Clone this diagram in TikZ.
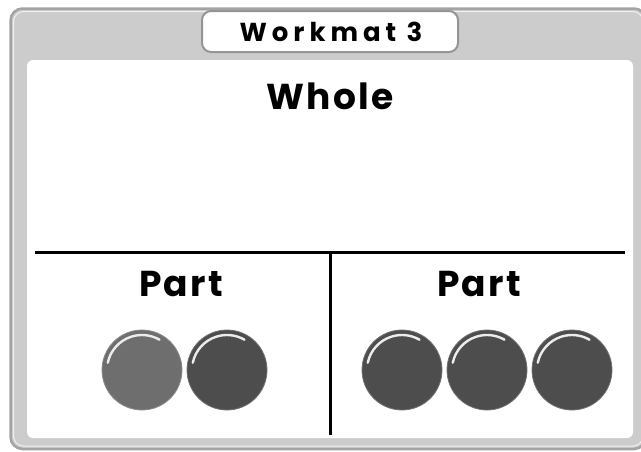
\documentclass[tikz,border=0pt]{standalone}
\usepackage{fontspec}
\usetikzlibrary{calc}
\newfontfamily\matfont{Poppins}[LetterSpace=6]
\newfontfamily\titlefont{Poppins}[LetterSpace=19]
\begin{document}
\begin{tikzpicture}[x=1pt,y=-1pt,
  lbl/.style={font=\matfont\bfseries\fontsize{36}{40}\selectfont, inner sep=0pt, anchor=base},
  ttl/.style={font=\titlefont\bfseries\fontsize{26}{28}\selectfont, inner sep=0pt, anchor=base},
  counter/.style={circle, minimum size=80pt, inner sep=0pt, draw=#1!80!white, line width=0.8pt, fill=#1},
  divider/.style={line width=3pt, black}
]
\definecolor{framegray}{HTML}{CCCCCC}
\definecolor{frameedge}{HTML}{A4A4A4}
\definecolor{lightchip}{HTML}{6E6E6E}
\definecolor{darkchip}{HTML}{4D4D4D}
\useasboundingbox (0,0) rectangle (641,451);
\fill[white] (0,0) rectangle (641,451);
% outer frame
\draw[frameedge, fill=framegray, line width=2.5pt, rounded corners=12pt] (10.5,8.5) rectangle (646,449);
\draw[white!88!gray, line width=1pt, rounded corners=10pt] (13.5,11.5) rectangle (643,446);
% white panel
\fill[white, rounded corners=6pt] (27,60) rectangle (633,438);
% title tab
\draw[frameedge!90!black, fill=white, line width=2pt, rounded corners=9pt] (202,11) rectangle (458,52);
\node[ttl] (title) at (331,41) {Workmat 3};
% labels
\node[lbl] (whole) at (330,109) {Whole};
\node[lbl] (partL) at (181,296) {Part};
\node[lbl] (partR) at (479,296) {Part};
% dividers
\coordinate (hl) at (35,252);
\coordinate (hr) at (625,252);
\coordinate (vt) at (330,252);
\coordinate (vb) at (330,435);
\draw[divider] (hl) -- (hr);
\draw[divider] (vt) -- (vb);
% counters
\foreach \n/\x/\c in {c1/142/lightchip, c2/227/darkchip, c3/402/darkchip, c4/487/darkchip, c5/572/darkchip}{
  \node[counter=\c] (\n) at (\x,370) {};
  \draw[white!85!gray, line width=2.4pt, line cap=round]
    ($(\n.center)+(-168:35)$) arc[start angle=-168, end angle=-60, radius=35];
}
\end{tikzpicture}
\end{document}
